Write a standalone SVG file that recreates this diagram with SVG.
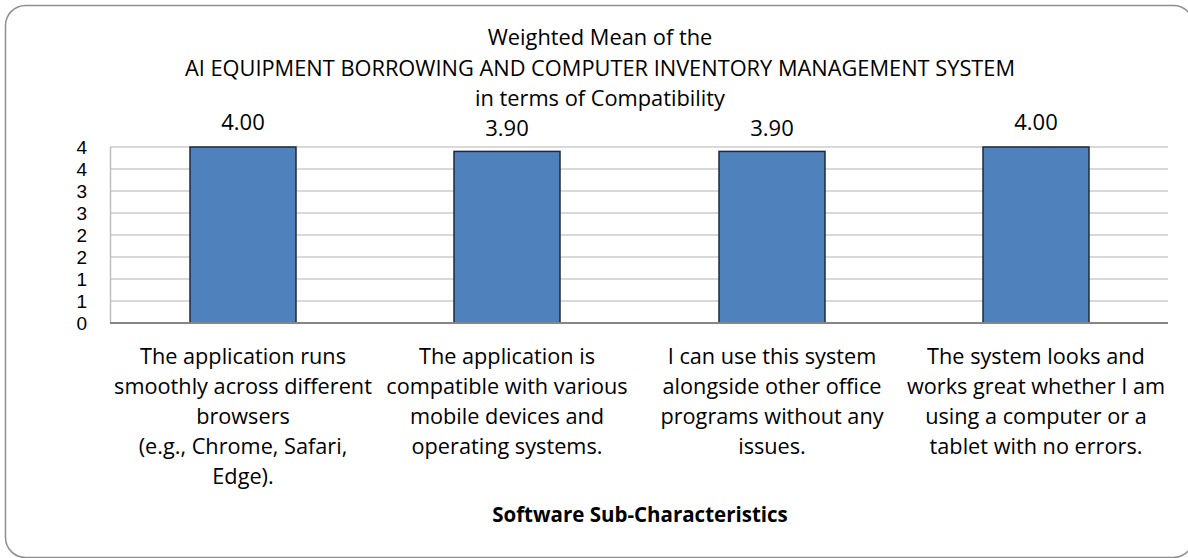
<svg xmlns="http://www.w3.org/2000/svg" width="1188" height="558" viewBox="0 0 1188 558">
<style>
text{font-family:"Open Sans","Liberation Sans",sans-serif;fill:#000}
.title{font-size:21.8px;text-anchor:middle}
.val{font-size:22px;text-anchor:middle}
.ax{font-family:"Liberation Sans",sans-serif;font-size:19px;text-anchor:end}
.cat{font-size:21.7px;text-anchor:middle}
.xt{font-size:20.5px;font-weight:bold;text-anchor:middle}
.grid{stroke:#d9d9d9;stroke-width:2}
.bar{fill:#4f81bd;stroke:#1f2a38;stroke-width:1.5}
</style>
<rect x="5.5" y="5.5" width="1188" height="552" rx="20" fill="#fff" stroke="#8f8f8f" stroke-width="1.5"/>
<g id="title">
<text class="title" x="600" y="45">Weighted Mean of the</text>
<text class="title" x="600" y="76">AI EQUIPMENT BORROWING AND COMPUTER INVENTORY MANAGEMENT SYSTEM</text>
<text class="title" x="600" y="106">in terms of Compatibility</text>
</g>
<g id="gridlines">
<line class="grid" x1="110" y1="147" x2="1168" y2="147"/>
<line class="grid" x1="110" y1="169" x2="1168" y2="169"/>
<line class="grid" x1="110" y1="191" x2="1168" y2="191"/>
<line class="grid" x1="110" y1="213" x2="1168" y2="213"/>
<line class="grid" x1="110" y1="235" x2="1168" y2="235"/>
<line class="grid" x1="110" y1="257" x2="1168" y2="257"/>
<line class="grid" x1="110" y1="279" x2="1168" y2="279"/>
<line class="grid" x1="110" y1="301" x2="1168" y2="301"/>
<line x1="110.5" y1="147" x2="110.5" y2="323" stroke="#bdbdbd" stroke-width="1.5"/>
</g>
<g id="y-axis">
<text class="ax" x="87" y="154">4</text>
<text class="ax" x="87" y="176">4</text>
<text class="ax" x="87" y="198">3</text>
<text class="ax" x="87" y="220">3</text>
<text class="ax" x="87" y="242">2</text>
<text class="ax" x="87" y="264">2</text>
<text class="ax" x="87" y="286">1</text>
<text class="ax" x="87" y="308">1</text>
<text class="ax" x="87" y="330">0</text>
</g>
<g id="bar1">
<rect class="bar" x="190" y="147" width="106" height="176"/>
<text class="val" x="243" y="130">4.00</text>
<text class="cat" x="243" y="364">The application runs</text>
<text class="cat" x="243" y="394">smoothly across different</text>
<text class="cat" x="243" y="424">browsers</text>
<text class="cat" x="243" y="454">(e.g., Chrome, Safari,</text>
<text class="cat" x="243" y="484">Edge).</text>
</g>
<g id="bar2">
<rect class="bar" x="454" y="151.4" width="106" height="171.6"/>
<text class="val" x="507" y="136">3.90</text>
<text class="cat" x="507" y="364">The application is</text>
<text class="cat" x="507" y="394">compatible with various</text>
<text class="cat" x="507" y="424">mobile devices and</text>
<text class="cat" x="507" y="454">operating systems.</text>
</g>
<g id="bar3">
<rect class="bar" x="719" y="151.4" width="106" height="171.6"/>
<text class="val" x="772" y="136">3.90</text>
<text class="cat" x="772" y="364">I can use this system</text>
<text class="cat" x="772" y="394">alongside other office</text>
<text class="cat" x="772" y="424">programs without any</text>
<text class="cat" x="772" y="454">issues.</text>
</g>
<g id="bar4">
<rect class="bar" x="983" y="147" width="106" height="176"/>
<text class="val" x="1036" y="130">4.00</text>
<text class="cat" x="1036" y="364">The system looks and</text>
<text class="cat" x="1036" y="394">works great whether I am</text>
<text class="cat" x="1036" y="424">using a computer or a</text>
<text class="cat" x="1036" y="454">tablet with no errors.</text>
</g>
<g id="connectors">
<line x1="110" y1="323" x2="1168" y2="323" stroke="#858585" stroke-width="2"/>
</g>
<text class="xt" x="640" y="522">Software Sub-Characteristics</text>
</svg>
